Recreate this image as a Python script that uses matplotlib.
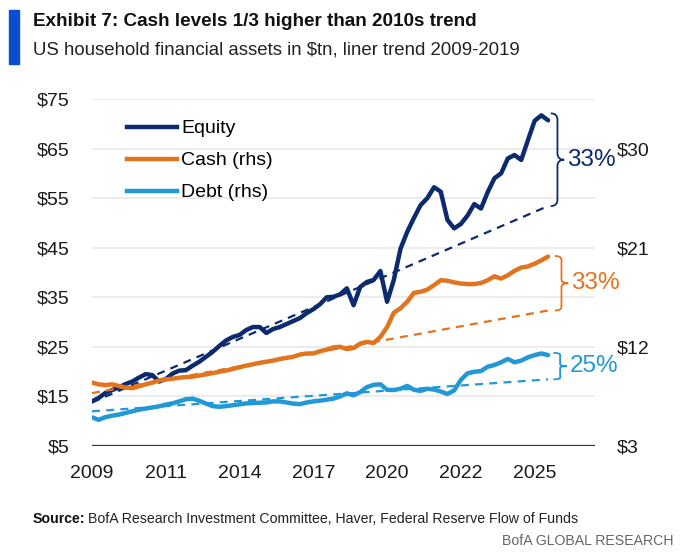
import numpy as np
import matplotlib
matplotlib.use('Agg')
import matplotlib.pyplot as plt
from matplotlib.path import Path
from matplotlib.patches import PathPatch

# quarterly values, 2009Q1 onwards ($tn)
equity = [14.0, 14.7, 15.7, 16.3, 16.8, 17.5, 18.0, 18.8, 19.5, 19.3,
          18.0, 18.5, 19.6, 20.2, 20.3, 21.2, 22.0, 23.0, 24.0, 25.2,
          26.3, 27.0, 27.4, 28.4, 29.0, 29.0, 27.8, 28.6, 29.0, 29.6,
          30.2, 30.8, 31.8, 32.6, 33.6, 35.0, 35.1, 35.6, 36.8, 33.4,
          37.1, 38.1, 38.5, 40.3, 34.1, 38.5, 44.8, 48.2, 51.0, 53.6,
          55.0, 57.2, 56.3, 50.6, 48.9, 49.8, 51.5, 53.8, 52.9, 56.2,
          59.0, 60.0, 63.0, 63.7, 62.7, 66.7, 70.6, 71.7, 70.7]
cash = [8.75, 8.6, 8.53, 8.6, 8.45, 8.3, 8.25, 8.42, 8.6, 8.75,
        8.95, 9.05, 9.1, 9.2, 9.25, 9.3, 9.4, 9.5, 9.62, 9.74,
        9.85, 10.0, 10.15, 10.3, 10.42, 10.55, 10.65, 10.75, 10.9, 11.0,
        11.1, 11.3, 11.4, 11.4, 11.6, 11.75, 11.95, 12.0, 11.8, 11.9,
        12.3, 12.45, 12.35, 12.9, 13.8, 15.1, 15.5, 16.1, 16.9, 17.0,
        17.2, 17.6, 18.05, 18.0, 17.85, 17.75, 17.7, 17.7, 17.8, 18.05,
        18.4, 18.2, 18.5, 18.9, 19.2, 19.3, 19.55, 19.85, 20.2]
debt = [5.6, 5.38, 5.62, 5.75, 5.85, 6.0, 6.15, 6.3, 6.4, 6.5,
        6.6, 6.75, 6.87, 7.05, 7.25, 7.3, 7.1, 6.85, 6.62, 6.56,
        6.62, 6.7, 6.78, 6.87, 6.9, 6.93, 6.95, 7.05, 7.05, 6.95,
        6.85, 6.8, 6.95, 7.05, 7.12, 7.2, 7.3, 7.5, 7.78, 7.6,
        7.9, 8.35, 8.55, 8.6, 8.1, 8.08, 8.2, 8.45, 8.1, 8.0,
        8.2, 8.12, 7.95, 7.72, 8.05, 9.0, 9.6, 9.74, 9.8, 10.2,
        10.35, 10.6, 10.9, 10.6, 10.75, 11.05, 11.25, 11.4, 11.25]

# 2009-2019 linear trends, start and end values
equity_trend = [13.8, 53.4]
cash_trend = [7.8, 15.3]
debt_trend = [6.15, 9.05]

gap_labels = ['33%', '33%', '25%']
year_labels = ['2009', '2011', '2014', '2017', '2020', '2022', '2025']
left_ticks = [5, 15, 25, 35, 45, 55, 65, 75]
right_ticks = [3, 12, 21, 30]

NAVY = '#0d2a6e'
ORANGE = '#e4731e'
LBLUE = '#2299d6'
plt.rcParams['font.family'] = ['Liberation Sans', 'DejaVu Sans']


def brace(ax, x0, ytop, ybot, color, dx=1.0, dy_frac=0.07):
    ym = (ytop + ybot) / 2
    dy = (ytop - ybot) * dy_frac
    verts = [(x0 - dx, ytop), (x0, ytop), (x0, ytop - dy),
             (x0, ym + dy),
             (x0, ym), (x0 + dx, ym),
             (x0, ym), (x0, ym - dy),
             (x0, ybot + dy),
             (x0, ybot), (x0 - dx, ybot)]
    codes = [Path.MOVETO, Path.CURVE3, Path.CURVE3, Path.LINETO,
             Path.CURVE3, Path.CURVE3, Path.CURVE3, Path.CURVE3,
             Path.LINETO, Path.CURVE3, Path.CURVE3]
    ax.add_patch(PathPatch(Path(verts, codes), fill=False, ec=color, lw=1.3,
                           clip_on=False))
    return x0 + dx, ym


fig = plt.figure(figsize=(6.8, 5.6), dpi=100)
ax = fig.add_axes([92 / 680, 1 - 446 / 560, 503 / 680, 347 / 560])
ax2 = ax.twinx()

x = np.arange(len(equity))
xe = [x[0], x[-1]]

ax.plot(x, equity, color=NAVY, lw=3.2, solid_capstyle='round', zorder=5)
ax.plot(xe, equity_trend, color=NAVY, lw=1.6, dashes=(3.6, 2.8), zorder=4)
ax2.plot(x, cash, color=ORANGE, lw=3.2, solid_capstyle='round', zorder=5)
ax2.plot(xe, cash_trend, color=ORANGE, lw=1.6, dashes=(3.6, 2.8), zorder=4)
ax2.plot(x, debt, color=LBLUE, lw=3.2, solid_capstyle='round', zorder=5)
ax2.plot(xe, debt_trend, color=LBLUE, lw=1.6, dashes=(3.6, 2.8), zorder=4)

ax.set_xlim(0, 75)
ax.set_ylim(5, 75)
ax2.set_ylim(3, 3 + 70 * 9 / 20)

ax.set_yticks(left_ticks)
ax.set_yticklabels(['$%d' % v for v in left_ticks])
ax2.set_yticks(right_ticks)
ax2.set_yticklabels(['$%d' % v for v in right_ticks])
ax.set_xticks(x[::11])
ax.set_xticklabels(year_labels)

for a in (ax, ax2):
    for s in a.spines.values():
        s.set_visible(False)
ax.tick_params(axis='both', length=0, labelsize=14, colors='#1a1a1a')
ax.tick_params(axis='y', pad=16)
ax.tick_params(axis='x', pad=14)
ax2.tick_params(axis='y', length=0, labelsize=14, colors='#1a1a1a', pad=16)

ax.grid(axis='y', color='#e9e9e9', lw=1.2)
ax.set_axisbelow(True)
ax.axhline(5, color='#333333', lw=1.6, zorder=3)

# braces with percent gaps
series = [(ax, equity, equity_trend, NAVY, 69.4),
          (ax2, cash, cash_trend, ORANGE, 70.0),
          (ax2, debt, debt_trend, LBLUE, 69.8)]
for (a, s, tr, col, xb), lab in zip(series, gap_labels):
    top = max(s[-2:]) + (0.4 if a is ax else 0.05)
    tx, ty = brace(a, xb, top, tr[1], col)
    a.annotate(lab, (tx, ty), xytext=(2, 0), textcoords='offset points',
               ha='left', va='center', fontsize=17.5, color=col,
               annotation_clip=False)

# legend
h = [plt.Line2D([], [], color=c, lw=3.2) for c in (NAVY, ORANGE, LBLUE)]
ax.legend(h, ['Equity', 'Cash (rhs)', 'Debt (rhs)'], loc='upper left',
          bbox_to_anchor=(0.069, 0.94), frameon=False, fontsize=14,
          handlelength=2.6, handletextpad=0.2, labelspacing=0.74,
          borderpad=0, borderaxespad=0)

# header and footer
fig.patches.append(plt.Rectangle((9 / 680, 1 - 64 / 560), 10 / 680, 54 / 560,
                                 transform=fig.transFigure, color='#0a4fd0'))
fig.text(33 / 680, 1 - 22 / 560, 'Exhibit 7: Cash levels 1/3 higher than 2010s trend',
         fontsize=13.6, fontweight='bold', va='center', color='#111111')
fig.text(33 / 680, 1 - 50 / 560, 'US household financial assets in $tn, liner trend 2009-2019',
         fontsize=13.4, va='center', color='#222222')
t = fig.text(33 / 680, 1 - 519 / 560, 'Source:', fontsize=10.2, fontweight='bold',
             va='center', color='#111111')
fig.canvas.draw()
bb = t.get_window_extent()
fig.text(bb.x1 / 680 + 0.004, 1 - 519 / 560,
         'BofA Research Investment Committee, Haver, Federal Reserve Flow of Funds',
         fontsize=10.2, va='center', color='#222222')
fig.text(673 / 680, 1 - 541 / 560, 'BofA GLOBAL RESEARCH', fontsize=10.2,
         ha='right', va='center', color='#666666')

fig.savefig('out.png', dpi=100)
